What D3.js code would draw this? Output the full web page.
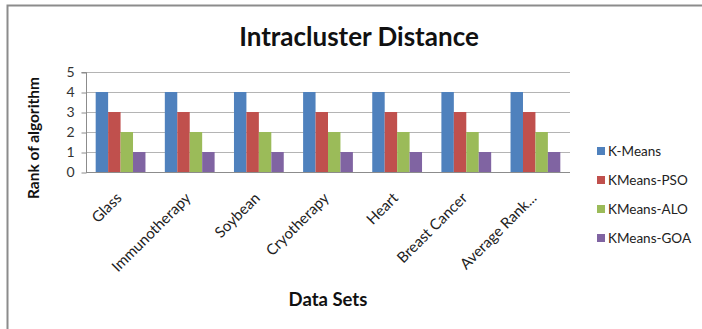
<!DOCTYPE html>
<html>
<head>
<meta charset="utf-8">
<script src="https://cdn.jsdelivr.net/npm/d3@7"></script>
<style>
  html, body { margin: 0; padding: 0; background: #fff; }
  svg { display: block; font-family: Lato, "Open Sans", sans-serif; }
</style>
</head>
<body>
<svg id="chart" width="702" height="329"></svg>
<script>
// Data sets ranked by each clustering algorithm
const categories = ["Glass", "Immunotherapy", "Soybean", "Cryotherapy", "Heart", "Breast Cancer", "Average Rank..."];
const seriesNames = ["K-Means", "KMeans-PSO", "KMeans-ALO", "KMeans-GOA"];
const kMeans     = [4, 4, 4, 4, 4, 4, 4];
const kMeansPSO  = [3, 3, 3, 3, 3, 3, 3];
const kMeansALO  = [2, 2, 2, 2, 2, 2, 2];
const kMeansGOA  = [1, 1, 1, 1, 1, 1, 1];
const yTicks = [0, 1, 2, 3, 4, 5];
const colors = ["#4F81BD", "#C0504D", "#9BBB59", "#8064A2"];

const seriesValues = [kMeans, kMeansPSO, kMeansALO, kMeansGOA];

const svg = d3.select("#chart");
const W = 702, H = 329;

// chart frame
svg.append("rect")
  .attr("x", 7.5).attr("y", 5.5)
  .attr("width", W).attr("height", H)
  .attr("fill", "#fff").attr("stroke", "#8c8c8c").attr("stroke-width", 2);

const plot = { left: 86, right: 570, top: 72, bottom: 172 };

const x = d3.scaleBand().domain(categories).range([plot.left, plot.right]).paddingInner(0.28).paddingOuter(0.14);
const xOuter = d3.scaleBand().domain(categories).range([plot.left, plot.right]);
const xSub = d3.scaleBand().domain(seriesNames).range([0, x.bandwidth()]);
const y = d3.scaleLinear().domain([0, 5]).range([plot.bottom, plot.top]);

// horizontal gridlines
svg.append("g").selectAll("line").data(yTicks.filter(t => t > 0)).join("line")
  .attr("x1", plot.left).attr("x2", plot.right)
  .attr("y1", d => Math.round(y(d)) + 0.5).attr("y2", d => Math.round(y(d)) + 0.5)
  .attr("stroke", "#b4b4b4").attr("stroke-width", 1);

// bars
const groups = svg.append("g").selectAll("g").data(categories).join("g")
  .attr("transform", d => `translate(${x(d)},0)`);
groups.selectAll("rect").data((d, i) => seriesNames.map((s, j) => ({ s, v: seriesValues[j][i], j })))
  .join("rect")
  .attr("x", d => xSub(d.s))
  .attr("width", xSub.bandwidth())
  .attr("y", d => y(d.v))
  .attr("height", d => y(0) - y(d.v))
  .attr("fill", d => colors[d.j]);

// y axis
const yAxis = d3.axisLeft(y).tickValues(yTicks).tickSize(5).tickPadding(7).tickFormat(d3.format("d"));
const gy = svg.append("g").attr("transform", `translate(${plot.left + 0.5},0.5)`).call(yAxis);
gy.select(".domain").attr("stroke", "#8c8c8c").attr("d", `M-5,${y(5)}H0V${y(0)}`);
gy.selectAll(".tick line").attr("stroke", "#8c8c8c");
gy.selectAll(".tick text").attr("font-size", 14).attr("fill", "#333").attr("font-family", "Lato, sans-serif");

// x axis
const xAxis = d3.axisBottom(xOuter).tickSize(0).tickPadding(0).tickFormat("");
const gx = svg.append("g").attr("transform", `translate(0,${plot.bottom + 0.5})`).call(xAxis);
gx.select(".domain").attr("stroke", "#8c8c8c").attr("d", `M${plot.left},0H${plot.right}`);

// rotated category labels
svg.append("g").selectAll("text").data(categories).join("text")
  .attr("transform", d => `translate(${x(d) + x.bandwidth() / 2 + 2},${plot.bottom + 27}) rotate(-45)`)
  .attr("text-anchor", "end")
  .attr("font-size", 15)
  .attr("fill", "#222")
  .text(d => d);

// title
svg.append("text")
  .attr("x", 359).attr("y", 46)
  .attr("text-anchor", "middle")
  .attr("font-size", 26).attr("font-weight", "bold")
  .attr("fill", "#111")
  .text("Intracluster Distance");

// axis titles
svg.append("text")
  .attr("transform", `translate(39,138) rotate(-90)`)
  .attr("text-anchor", "middle")
  .attr("font-size", 15.5).attr("font-weight", "bold").attr("fill", "#111")
  .text("Rank of algorithm");

svg.append("text")
  .attr("x", 328).attr("y", 306)
  .attr("text-anchor", "middle")
  .attr("font-size", 18.5).attr("font-weight", "bold").attr("fill", "#111")
  .text("Data Sets");

// legend
const legend = svg.append("g").selectAll("g").data(seriesNames).join("g")
  .attr("transform", (d, i) => `translate(597,${151 + i * 29})`);
legend.append("rect").attr("x", 0).attr("y", -4).attr("width", 8).attr("height", 8)
  .attr("fill", (d, i) => colors[i]);
legend.append("text").attr("x", 11).attr("y", 0).attr("dy", "0.35em")
  .attr("font-size", 13.5).attr("fill", "#222")
  .text(d => d);
</script>
</body>
</html>
